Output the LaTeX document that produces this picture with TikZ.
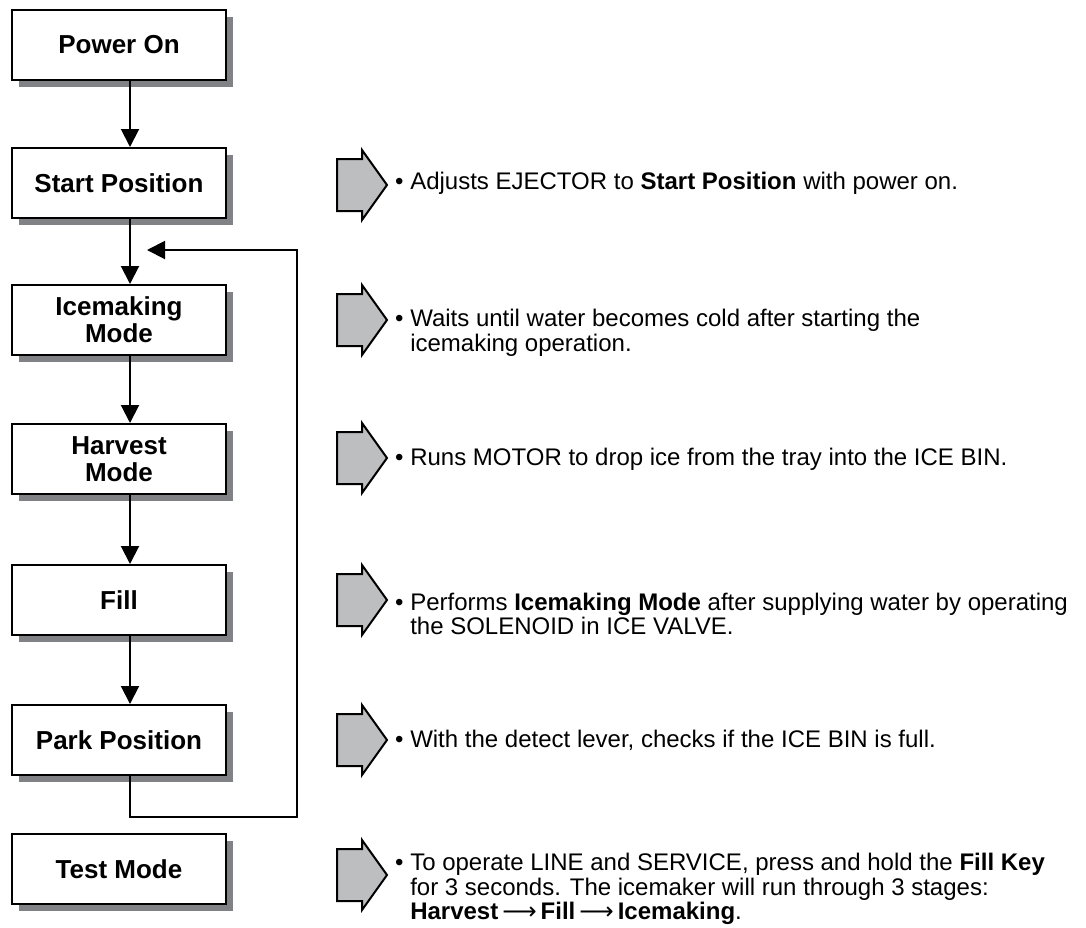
\documentclass[tikz,border=0pt]{standalone}
\usepackage{fontspec}
\setmainfont{Liberation Sans}
\newfontfamily\arrfont{DejaVu Sans}
\usepackage{xcolor}
\usetikzlibrary{arrows.meta,positioning,shadows,calc}
\definecolor{shgray}{HTML}{808285}
\definecolor{argray}{HTML}{BCBEC0}
\begin{document}
\begin{tikzpicture}[x=1pt,y=-1pt,
    box/.style={draw,line width=2pt,fill=white,minimum width=214pt,minimum height=70pt,
      align=center,font=\bfseries\fontsize{26}{27}\selectfont,
      drop shadow={shadow xshift=7pt,shadow yshift=-7pt,fill=shgray,opacity=1}},
    flow/.style={line width=2pt,-{Triangle[length=18pt,width=18pt]}},
    bigarrow/.style={draw,line width=2pt,fill=argray,line join=miter},
    desc/.style={anchor=west,align=left,inner sep=0pt,font=\fontsize{24}{24.5}\selectfont}]
    \useasboundingbox (0,0) rectangle (1086,927);
    \def\ind{\phantom{\textbullet\ }}
    \def\tto{\,{\arrfont\mdseries ⟶}\,}
    % flow boxes
    \node[box] (pwr)   at (119,45)  {Power On};
    \node[box] (start) at (119,183) {Start Position};
    \node[box] (ice)   at (119,320) {Icemaking\\Mode};
    \node[box] (harv)  at (119,459) {Harvest\\Mode};
    \node[box] (fill)  at (119,600) {Fill};
    \node[box] (park)  at (119,740) {Park Position};
    \node[box] (test)  at (119,869) {Test Mode};
    \coordinate (lane) at (130,0);
    \coordinate (loopc) at (297,817);
    \coordinate (loopend) at (147,250);
    \draw[flow] (pwr.south -| lane) -- (start.north -| lane);
    \draw[flow] (start.south -| lane) -- (ice.north -| lane);
    \draw[flow] (ice.south -| lane) -- (harv.north -| lane);
    \draw[flow] (harv.south -| lane) -- (fill.north -| lane);
    \draw[flow] (fill.south -| lane) -- (park.north -| lane);
    \draw[flow] (park.south -| lane) |- (loopc) |- (loopend);
    % gray arrows
    \foreach \y in {185,320,458,600,740,875} {
      \draw[bigarrow] (337,\y-26) -- (362,\y-26) -- (362,\y-35) -- (387,\y)
        -- (362,\y+35) -- (362,\y+26) -- (337,\y+26) -- cycle;
    }
    % descriptions
    \node[desc] (d1) at (395,183) {\textbullet\ Adjusts EJECTOR to \textbf{Start Position} with power on.};
    \node[desc] (d2) at (395,333) {\textbullet\ Waits until water becomes cold after starting the\\
      \ind icemaking operation.};
    \node[desc] (d3) at (395,459) {\textbullet\ Runs MOTOR to drop ice from the tray into the ICE BIN.};
    \node[desc] (d4) at (395,614) {\textbullet\ Performs \textbf{Icemaking Mode} after supplying water by operating\\
      \ind the SOLENOID in ICE VALVE.};
    \node[desc] (d5) at (395,740) {\textbullet\ With the detect lever, checks if the ICE BIN is full.};
    \node[desc] (d6) at (395,889) {\textbullet\ To operate LINE and SERVICE, press and hold the \textbf{Fill Key}\\
      \ind for 3 seconds. The icemaker will run through 3 stages:\\
      \ind\textbf{Harvest}\tto\textbf{Fill}\tto\textbf{Icemaking}.};
\end{tikzpicture}
\end{document}
